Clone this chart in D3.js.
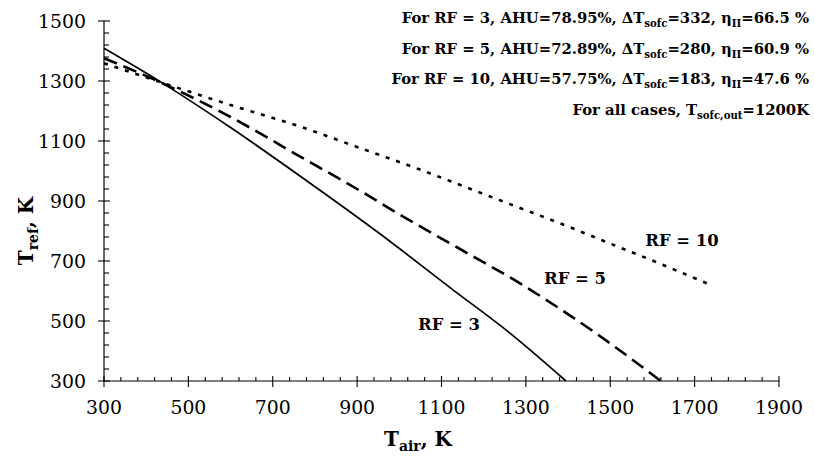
<!DOCTYPE html>
<html><head><meta charset="utf-8">
<script src="https://cdn.jsdelivr.net/npm/d3@7"></script>
<style>
body{margin:0;background:#fff;}
svg{display:block;}
text{font-family:"DejaVu Serif",serif;}
</style></head>
<body><svg id="c" width="814" height="457"></svg>
<script>
// ---- data ----
const xTicks = [300,500,700,900,1100,1300,1500,1700,1900];
const yTicks = [300,500,700,900,1100,1300,1500];
const rf3X = [300,433,600,772,950,1128,1260,1395];
const rf3Y = [1409,1298,1145,976,795,603,462,300];
const rf5X = [300,430,600,765,900,1009,1150,1290,1455,1620];
const rf5Y = [1376,1298,1180,1048,940,848,735,622,470,300];
const rf10X = [300,430,600,765,900,1041,1160,1278,1400,1500,1620,1730];
const rf10Y = [1359,1298,1220,1148,1080,1009,945,881,815,758,690,625];
const seriesNames = ["RF = 3","RF = 5","RF = 10"];
const notes = [
  ["For RF = 3, AHU=78.95%, ΔT","sofc","=332, η","II","=66.5 %"],
  ["For RF = 5, AHU=72.89%, ΔT","sofc","=280, η","II","=60.9 %"],
  ["For RF = 10, AHU=57.75%, ΔT","sofc","=183, η","II","=47.6 %"],
  ["For all cases, T","sofc,out","=1200K"]
];

const svg = d3.select("#c");
const x = d3.scaleLinear().domain([300,1900]).range([104,779]);
const y = d3.scaleLinear().domain([300,1500]).range([381,21]);

svg.append("line").attr("x1",x(300)).attr("x2",x(1900)).attr("y1",y(300)).attr("y2",y(300)).attr("stroke","#000").attr("stroke-width",1.2);
svg.append("line").attr("x1",x(300)).attr("x2",x(300)).attr("y1",y(300)).attr("y2",y(1500)).attr("stroke","#000").attr("stroke-width",1.2);

const minorX = d3.range(300,1900,40).filter(v=>!xTicks.includes(v));
const minorY = d3.range(300,1500,40).filter(v=>!yTicks.includes(v));
const g = svg.append("g").attr("stroke","#000").attr("stroke-width",1.1);
xTicks.forEach(v=>g.append("line").attr("x1",x(v)).attr("x2",x(v)).attr("y1",y(300)-5).attr("y2",y(300)+6));
minorX.forEach(v=>g.append("line").attr("x1",x(v)).attr("x2",x(v)).attr("y1",y(300)-4).attr("y2",y(300)));
yTicks.forEach(v=>g.append("line").attr("x1",x(300)-6).attr("x2",x(300)+6).attr("y1",y(v)).attr("y2",y(v)));
minorY.forEach(v=>g.append("line").attr("x1",x(300)).attr("x2",x(300)+5).attr("y1",y(v)).attr("y2",y(v)));

function fit(sel, target){
  const w = sel.node().getComputedTextLength();
  const fs = parseFloat(sel.attr("font-size"));
  return fs*target/w;
}

const xl = svg.selectAll(".xl").data(xTicks).enter().append("text")
  .attr("x",d=>x(d)).attr("y",414).attr("text-anchor","middle").attr("font-size",20).text(d=>d);
const yl = svg.selectAll(".yl").data(yTicks).enter().append("text")
  .attr("x",86).attr("y",d=>y(d)+7).attr("text-anchor","end").attr("font-size",20).text(d=>d);
const tfs = fit(yl.filter(d=>d===1500), 48);
xl.attr("font-size",tfs); yl.attr("font-size",tfs);

const xt = svg.append("text").attr("x",418).attr("y",446).attr("text-anchor","middle").attr("font-size",20).attr("font-weight","bold");
xt.append("tspan").text("T");
xt.append("tspan").attr("font-size",14).attr("dy",5).text("air");
xt.append("tspan").attr("dy",-5).text(", K");
const yt = svg.append("text").attr("transform","translate(33,231) rotate(-90)").attr("text-anchor","middle").attr("font-size",20).attr("font-weight","bold");
yt.append("tspan").text("T");
yt.append("tspan").attr("font-size",14).attr("dy",5).text("ref");
yt.append("tspan").attr("dy",-5).text(", K");

const line = d3.line().x(d=>x(d[0])).y(d=>y(d[1])).curve(d3.curveMonotoneX);
const mk = (xs,ys)=>xs.map((v,i)=>[v,ys[i]]);
svg.append("path").attr("d",line(mk(rf3X,rf3Y))).attr("fill","none").attr("stroke","#000").attr("stroke-width",1.7);
svg.append("path").attr("d",line(mk(rf5X,rf5Y))).attr("fill","none").attr("stroke","#000").attr("stroke-width",2.6).attr("stroke-dasharray","14,7");
svg.append("path").attr("d",line(mk(rf10X,rf10Y))).attr("fill","none").attr("stroke","#000").attr("stroke-width",2.6).attr("stroke-dasharray","4,7");

const labPos = [[449,330],[575,284],[682,246]];
const labs = seriesNames.map((s,i)=>svg.append("text").attr("x",labPos[i][0]).attr("y",labPos[i][1]).attr("text-anchor","middle")
  .attr("font-size",19).attr("font-weight","bold").text(s));
const lfs = fit(labs[0], 62);
labs.forEach(l=>l.attr("font-size",lfs));

const noteY = [23,54,84,115];
const nts = notes.map((n,i)=>{
  const t = svg.append("text").attr("x",809).attr("y",noteY[i]).attr("text-anchor","end").attr("font-size",16).attr("font-weight","bold");
  n.forEach((s,j)=>{
    const ts = t.append("tspan").text(s);
    if(j%2===1){ts.attr("font-size",11).attr("dy",4);} else if(j>0){ts.attr("dy",-4);}
  });
  return t;
});
const k = 418/nts[2].node().getComputedTextLength();
nts.forEach(t=>{
  t.attr("font-size",16*k);
  t.selectAll("tspan").filter(function(){return this.getAttribute("font-size");}).attr("font-size",11*k);
});
</script></body></html>
